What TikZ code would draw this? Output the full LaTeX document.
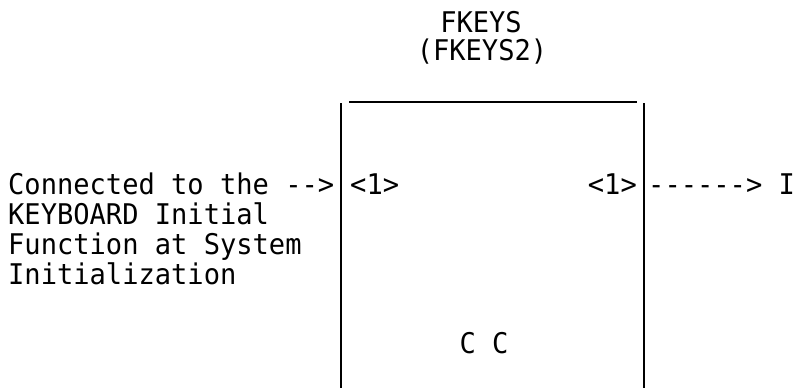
\documentclass[tikz,border=0pt]{standalone}
\usepackage{fontspec}
\newfontfamily\termfont[FakeStretch=0.95]{DejaVu Sans Mono}
\usetikzlibrary{positioning}

\tikzset{
  txt/.style={inner sep=0pt, font=\termfont\fontsize{28.5}{30}\selectfont},
  boxline/.style={line width=2.6pt},
  lidline/.style={line width=1.4pt}
}

\begin{document}
\begin{tikzpicture}[x=1pt, y=-1pt]
  \useasboundingbox (0,0) rectangle (798,388);
  % title
  \node[txt, anchor=base] (name) at (481,32) {FKEYS};
  \node[txt, anchor=base] (alias) at (482,60) {(FKEYS2)};
  % the box, open at the bottom
  \coordinate (lidL) at (349,102);
  \coordinate (lidR) at (637,102);
  \coordinate (wallLt) at (341,103);
  \coordinate (wallLb) at (341,388);
  \coordinate (wallRt) at (644,103);
  \coordinate (wallRb) at (644,388);
  \draw[lidline] (lidL) -- (lidR);
  \draw[boxline] (wallLt) -- (wallLb);
  \draw[boxline] (wallRt) -- (wallRb);
  % input side
  \node[txt, anchor=base west] (conn1) at (8,194) {Connected to the -->};
  \node[txt, anchor=base west] (conn2) at (8,224) {KEYBOARD Initial};
  \node[txt, anchor=base west] (conn3) at (8,254) {Function at System};
  \node[txt, anchor=base west] (conn4) at (8,284) {Initialization};
  \node[txt, anchor=base west] (inport) at (350,194) {<1>};
  % output side
  \node[txt, anchor=base east] (outport) at (637,194) {<1>};
  \node[txt, anchor=base west] (outlink) at (648,194) {------> I};
  % inside
  \node[txt, anchor=base] (cc) at (484,353) {C C};
\end{tikzpicture}
\end{document}
